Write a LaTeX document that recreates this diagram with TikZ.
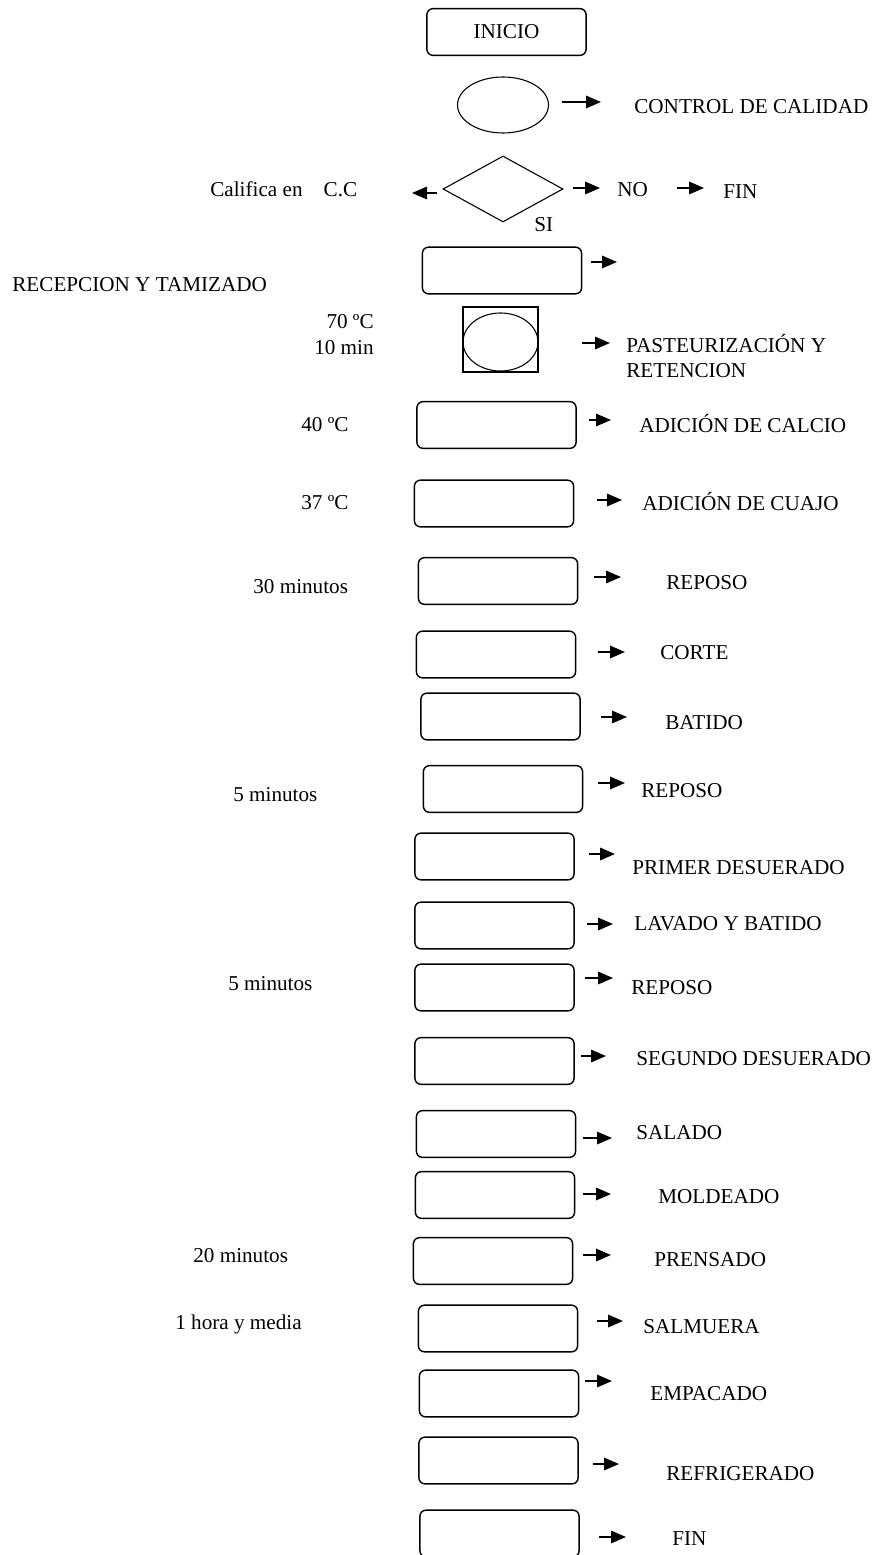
\documentclass[tikz,border=0pt]{standalone}
\usepackage{fontspec}
\setmainfont{Liberation Serif}
\usetikzlibrary{shapes.geometric,arrows.meta}

\tikzset{
    caja/.style={draw, rounded corners=3.6pt, line width=0.85pt, minimum width=95.5pt, minimum height=28pt, inner sep=0pt},
    ovalo/.style={draw, ellipse, line width=0.65pt, inner sep=0pt},
    rombo/.style={draw, diamond, line width=0.65pt, inner sep=0pt},
    txt/.style={inner sep=0pt, text height=8.4pt, text depth=0pt},
    flecha/.style={-{Triangle[length=9pt,width=7.5pt]}, line width=1pt}
}

\begin{document}
\begin{tikzpicture}[x=0.6pt, y=-0.6pt, font=\fontsize{12.7}{15}\selectfont]
    \useasboundingbox (0,0) rectangle (873,1555);
    \clip (0,0) rectangle (873,1555);
    % figuras
    \node[caja] (N0) at (506.5,32) {INICIO};
    \node[ovalo, minimum width=54.6pt, minimum height=33.6pt] (N1) at (503,105) {};
    \node[rombo, minimum width=72pt, minimum height=39.6pt] (N2) at (503,189) {};
    \node[caja] (N3) at (502,270.5) {};
    \node[draw, line width=0.65pt, minimum width=45pt, minimum height=39pt, inner sep=0pt] (N4) at (500.5,339.5) {};
    \node[ovalo, minimum width=45pt, minimum height=34.8pt] (N5) at (500.5,342) {};
    \node[caja] (N6) at (496.5,425) {};
    \node[caja] (N7) at (494,503.5) {};
    \node[caja] (N8) at (498,581) {};
    \node[caja] (N9) at (496,654.5) {};
    \node[caja] (N10) at (500.5,716.5) {};
    \node[caja] (N11) at (503,789) {};
    \node[caja] (N12) at (494.5,856.5) {};
    \node[caja] (N13) at (494.5,925.5) {};
    \node[caja] (N14) at (494.5,987.5) {};
    \node[caja] (N15) at (494.5,1061) {};
    \node[caja] (N16) at (496,1134) {};
    \node[caja] (N17) at (495,1195) {};
    \node[caja] (N18) at (493,1261) {};
    \node[caja] (N19) at (498,1328.5) {};
    \node[caja] (N20) at (499,1393.5) {};
    \node[caja] (N21) at (498.5,1460.5) {};
    \node[caja] (N22) at (499.5,1533.5) {};
    % textos
    \node[txt, anchor=west] (T1) at (634,107) {CONTROL DE CALIDAD};
    \node[txt, anchor=west] (T2) at (210,190) {Califica en\hspace*{9.5pt} C.C};
    \node[txt, anchor=west] (T3) at (617,190) {NO};
    \node[txt, anchor=west] (T4) at (723,192) {FIN};
    \node[txt, anchor=west] (T5) at (534,225) {SI};
    \node[txt, anchor=west] (T6) at (12,285) {RECEPCION Y TAMIZADO};
    \node[txt, anchor=east] (T7) at (374,322) {70 ºC};
    \node[txt, anchor=east] (T8) at (374,348) {10 min};
    \node[txt, anchor=west] (T9) at (626,346) {PASTEURIZACIÓN Y};
    \node[txt, anchor=west] (T10) at (626,371) {RETENCION};
    \node[txt, anchor=west] (T11) at (301,424) {40 ºC};
    \node[txt, anchor=west] (T12) at (639,425) {ADICIÓN DE CALCIO};
    \node[txt, anchor=west] (T13) at (301,502) {37 ºC};
    \node[txt, anchor=west] (T14) at (642,503) {ADICIÓN DE CUAJO};
    \node[txt, anchor=west] (T15) at (253,586) {30 minutos};
    \node[txt, anchor=west] (T16) at (666,582) {REPOSO};
    \node[txt, anchor=west] (T17) at (660,652) {CORTE};
    \node[txt, anchor=west] (T18) at (665,722) {BATIDO};
    \node[txt, anchor=west] (T19) at (233,794) {5 minutos};
    \node[txt, anchor=west] (T20) at (641,790) {REPOSO};
    \node[txt, anchor=west] (T21) at (632,867) {PRIMER DESUERADO};
    \node[txt, anchor=west] (T22) at (634,923) {LAVADO Y BATIDO};
    \node[txt, anchor=west] (T23) at (228,983) {5 minutos};
    \node[txt, anchor=west] (T24) at (631,987) {REPOSO};
    \node[txt, anchor=west] (T25) at (636,1058) {SEGUNDO DESUERADO};
    \node[txt, anchor=west] (T26) at (636,1132) {SALADO};
    \node[txt, anchor=west] (T27) at (658,1196) {MOLDEADO};
    \node[txt, anchor=west] (T28) at (193,1255) {20 minutos};
    \node[txt, anchor=west] (T29) at (654,1259) {PRENSADO};
    \node[txt, anchor=west] (T30) at (175,1322) {1 hora y media};
    \node[txt, anchor=west] (T31) at (643,1326) {SALMUERA};
    \node[txt, anchor=west] (T32) at (650,1393) {EMPACADO};
    \node[txt, anchor=west] (T33) at (666,1473) {REFRIGERADO};
    \node[txt, anchor=west] (T34) at (672,1538) {FIN};
    % flechas
    \coordinate (A1) at (562,102);   \coordinate (B1) at (601,102);
    \coordinate (A2) at (437,193);   \coordinate (B2) at (412,193);
    \coordinate (A3) at (573,188);   \coordinate (B3) at (600,188);
    \coordinate (A4) at (677,188);   \coordinate (B4) at (704,188);
    \coordinate (A5) at (591,262);   \coordinate (B5) at (617,262);
    \coordinate (A6) at (582,343);   \coordinate (B6) at (610,343);
    \coordinate (A7) at (589,420);   \coordinate (B7) at (611,420);
    \coordinate (A8) at (597,500);   \coordinate (B8) at (622,500);
    \coordinate (A9) at (594,577);   \coordinate (B9) at (621,577);
    \coordinate (A10) at (598,652);  \coordinate (B10) at (625,652);
    \coordinate (A11) at (601,717);  \coordinate (B11) at (627,717);
    \coordinate (A12) at (598,783);  \coordinate (B12) at (625,783);
    \coordinate (A13) at (589,854);  \coordinate (B13) at (615,854);
    \coordinate (A14) at (587,924);  \coordinate (B14) at (613,924);
    \coordinate (A15) at (585,978);  \coordinate (B15) at (613,978);
    \coordinate (A16) at (581,1056); \coordinate (B16) at (606,1056);
    \coordinate (A17) at (583,1138); \coordinate (B17) at (612,1138);
    \coordinate (A18) at (583,1194); \coordinate (B18) at (611,1194);
    \coordinate (A19) at (583,1255); \coordinate (B19) at (611,1255);
    \coordinate (A20) at (597,1321); \coordinate (B20) at (623,1321);
    \coordinate (A21) at (585,1381); \coordinate (B21) at (612,1381);
    \coordinate (A22) at (593,1464); \coordinate (B22) at (619,1464);
    \coordinate (A23) at (599,1537); \coordinate (B23) at (626,1537);
    \path[flecha] (A1) edge (B1) (A2) edge (B2) (A3) edge (B3) (A4) edge (B4);
    \path[flecha] (A5) edge (B5) (A6) edge (B6) (A7) edge (B7) (A8) edge (B8);
    \path[flecha] (A9) edge (B9) (A10) edge (B10) (A11) edge (B11) (A12) edge (B12);
    \path[flecha] (A13) edge (B13) (A14) edge (B14) (A15) edge (B15) (A16) edge (B16);
    \path[flecha] (A17) edge (B17) (A18) edge (B18) (A19) edge (B19) (A20) edge (B20);
    \path[flecha] (A21) edge (B21) (A22) edge (B22) (A23) edge (B23);
\end{tikzpicture}
\end{document}
